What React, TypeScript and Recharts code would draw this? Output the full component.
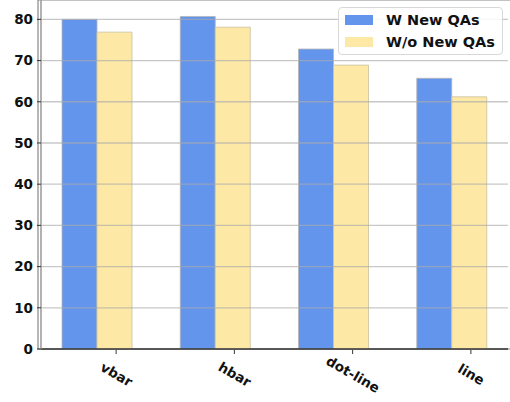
import { BarChart, Bar, XAxis, YAxis, ReferenceLine, ReferenceArea, Legend } from 'recharts';

const categories = ['vbar', 'hbar', 'dot-line', 'line'];
const withNewQAs = [80.0, 80.7, 72.8, 65.7];
const withoutNewQAs = [76.9, 78.1, 68.9, 61.2];
const yTicks = [0, 10, 20, 30, 40, 50, 60, 70, 80];

const BLUE = '#6495ED';
const YELLOW = '#FDE8A5';
const FONT = '"DejaVu Sans", sans-serif';

const data = categories.map((name, i) => ({
  name,
  w: withNewQAs[i],
  wo: withoutNewQAs[i],
}));

function XTick(props: any) {
  const { x, y, payload } = props;
  const tx = x + 19;
  return (
    <g>
      <line x1={tx} x2={tx} y1={y - 7} y2={y - 3} stroke="#333" strokeWidth={1} />
      <text
        x={tx}
        y={y + 18}
        textAnchor="middle"
        dominantBaseline="middle"
        transform={`rotate(30 ${tx} ${y + 18})`}
        fontFamily={FONT}
        fontWeight="bold"
        fontSize={13.5}
        fill="#111"
      >
        {payload.value}
      </text>
    </g>
  );
}

function LegendBox() {
  const items = [
    { label: 'W New QAs', color: BLUE },
    { label: 'W/o New QAs', color: YELLOW },
  ];
  return (
    <div
      style={{
        position: 'relative',
        width: 165,
        height: 48,
        border: '1px solid #d8d8d8',
        borderRadius: 4,
        background: 'rgba(255,255,255,0.85)',
        boxSizing: 'border-box',
        fontFamily: FONT,
        fontWeight: 'bold',
        fontSize: 14.5,
        color: '#111',
      }}
    >
      {items.map((it, i) => (
        <div key={it.label} style={{ position: 'absolute', left: 6, top: 7 + i * 22, display: 'flex', alignItems: 'center', height: 10 }}>
          <div style={{ width: 28, height: 10, background: it.color }} />
          <span style={{ marginLeft: 13, lineHeight: '10px', whiteSpace: 'nowrap' }}>{it.label}</span>
        </div>
      ))}
    </div>
  );
}

export default function App() {
  return (
    <div style={{ width: 510, height: 402 }}>
      <style>{`body{margin:0}`}</style>
      <BarChart
        width={510}
        height={402}
        data={data}
        margin={{ top: 0, right: 2, left: 0, bottom: 0 }}
        barGap={0}
        barSize={35}
      >
        <XAxis
          dataKey="name"
          padding={{ left: -3, right: -3 }}
          tickLine={false}
          axisLine={{ stroke: '#333', strokeWidth: 1.5 }}
          tick={<XTick />}
          interval={0}
          height={53}
        />
        <YAxis
          width={41}
          domain={[0, 84.7]}
          ticks={yTicks}
          allowDataOverflow
          axisLine={{ stroke: '#999', strokeWidth: 1.5 }}
          tickLine={{ stroke: '#333' }}
          tickSize={4}
          tickMargin={4}
          tick={{ fontFamily: FONT, fontWeight: 'bold', fontSize: 13.5, fill: '#111' }}
        />
        <Bar dataKey="w" fill={BLUE} stroke="#b5b5b5" strokeWidth={0.8} isAnimationActive={false} />
        <Bar dataKey="wo" fill={YELLOW} stroke="#c9c0a0" strokeWidth={0.8} isAnimationActive={false} />
        {yTicks.slice(1).map((t) => (
          <ReferenceLine key={t} y={t} stroke="rgba(170,170,170,0.65)" strokeWidth={1.3} />
        ))}
        <ReferenceArea y1={0} y2={84.7} fill="none" stroke="#888" strokeWidth={1.2} ifOverflow="visible" />
        <Legend
          layout="vertical"
          align="center"
          verticalAlign="middle"
          content={<LegendBox />}
          wrapperStyle={{ position: 'absolute', left: 338, top: 7, width: 165, height: 48 }}
        />
      </BarChart>
    </div>
  );
}
